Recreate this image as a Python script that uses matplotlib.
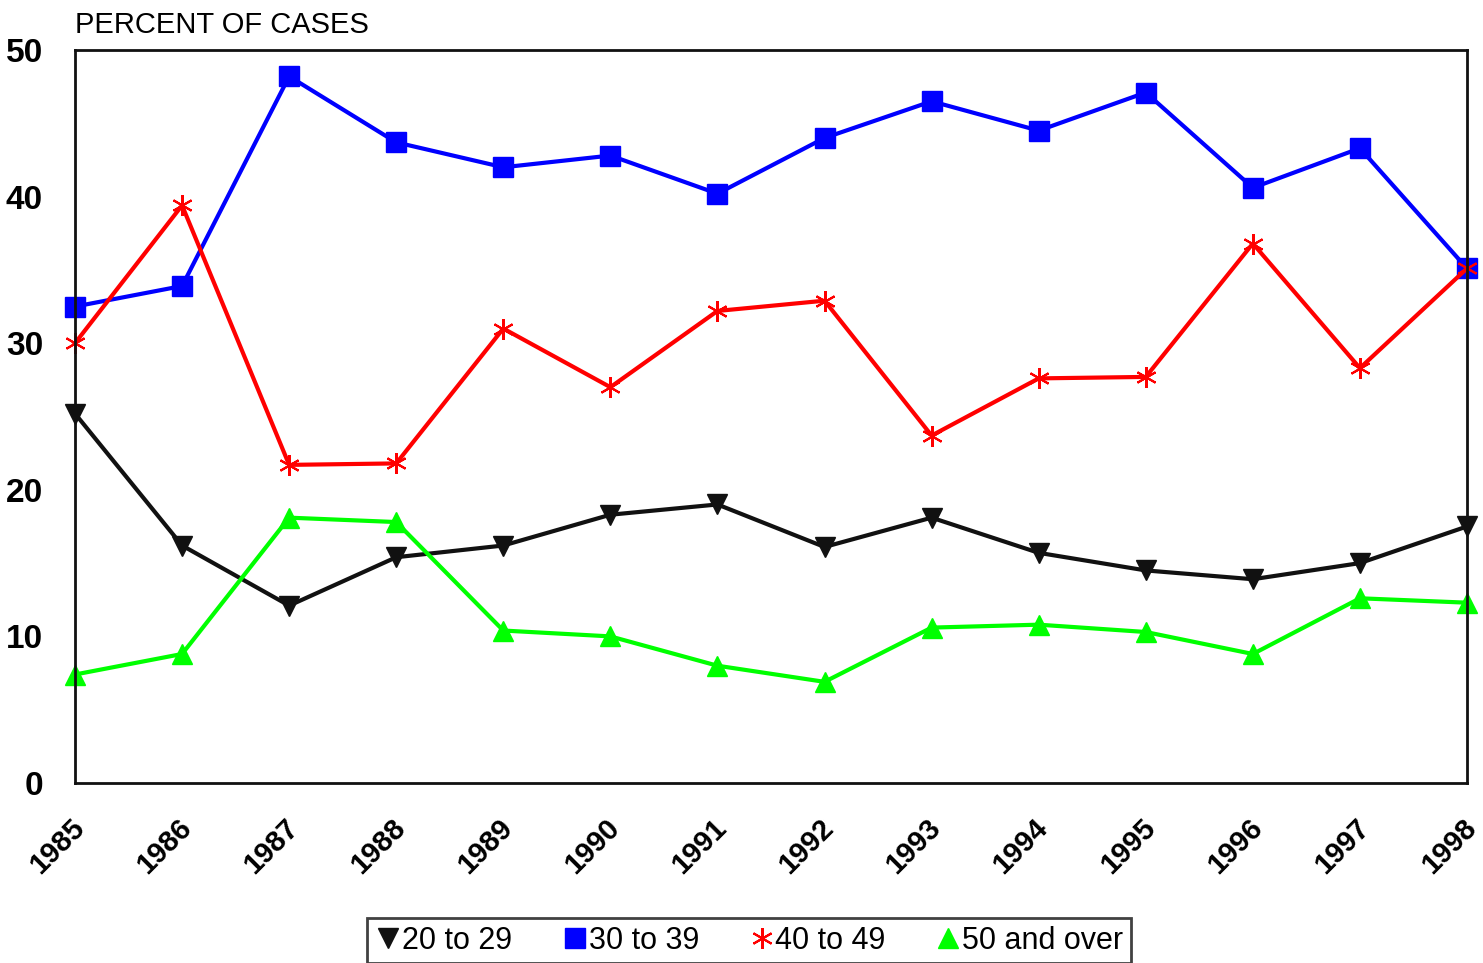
import matplotlib.pyplot as plt
from matplotlib import transforms

years = list(range(1985, 1999))
age_20_29 = [25.2, 16.2, 12.1, 15.4, 16.2, 18.3, 19.0, 16.1, 18.1, 15.7, 14.5, 13.9, 15.0, 17.5]
age_30_39 = [32.5, 33.9, 48.2, 43.7, 42.0, 42.8, 40.2, 44.0, 46.5, 44.5, 47.1, 40.6, 43.3, 35.1]
age_40_49 = [30.0, 39.4, 21.7, 21.8, 31.0, 27.0, 32.2, 32.9, 23.7, 27.6, 27.7, 36.8, 28.3, 35.1]
age_50_up = [7.4, 8.8, 18.1, 17.8, 10.4, 10.0, 8.0, 6.9, 10.6, 10.8, 10.3, 8.8, 12.6, 12.3]
y_ticks = [0, 10, 20, 30, 40, 50]

plt.rcParams["font.family"] = ["Liberation Sans", "DejaVu Sans"]

fig = plt.figure(figsize=(14.83, 9.63), dpi=100)
ax = fig.add_axes([75 / 1483, 1 - 783 / 963, (1467 - 75) / 1483, (783 - 50) / 963])

ax.plot(years, age_20_29, color="#111111", lw=3, marker="v", ms=14, label="20 to 29", clip_on=False)
ax.plot(years, age_30_39, color="#0000ff", lw=3, marker="s", ms=14, label="30 to 39", clip_on=False)
ax.plot(years, age_40_49, color="#ff0000", lw=3, marker=(6, 2, 0), ms=15, mew=1.5,
        label="40 to 49", clip_on=False)
ax.plot(years, age_50_up, color="#00ff00", lw=3, marker="^", ms=14, label="50 and over", clip_on=False)

ax.set_xlim(1985, 1998)
ax.set_ylim(0, 50)
ax.set_yticks(y_ticks)
ax.set_xticks(years)
ax.tick_params(axis="y", length=0, labelsize=24, pad=23)
ax.tick_params(axis="x", length=0, labelsize=21, pad=22)
for lbl in ax.get_yticklabels():
    lbl.set_fontweight("bold")
    lbl.set_va("center_baseline")
# nudge year labels a few px left so 1998 stays inside the canvas
shift = transforms.ScaledTranslation(-5 / 100, 0, fig.dpi_scale_trans)
for lbl in ax.get_xticklabels():
    lbl.set_fontweight("bold")
    lbl.set_rotation(45)
    lbl.set_ha("right")
    lbl.set_va("top")
    lbl.set_rotation_mode("anchor")
    lbl.set_transform(lbl.get_transform() + shift)
for s in ax.spines.values():
    s.set_linewidth(2)
    s.set_color("#111111")

fig.text(75 / 1483, 1 - 25 / 963, "PERCENT OF CASES", fontsize=21, va="center", ha="left")

leg = fig.legend(loc="upper left", bbox_to_anchor=(367 / 1483, 1 - 918 / 963), ncol=4,
                 fontsize=22, frameon=True, fancybox=False, handlelength=0.9,
                 handletextpad=0.0, columnspacing=1.6, borderpad=0.25, borderaxespad=0)
leg.get_frame().set_edgecolor("#111111")
leg.get_frame().set_linewidth(2)
for h in leg.get_lines():
    h.set_linewidth(0)

fig.savefig("out.png", dpi=100)
